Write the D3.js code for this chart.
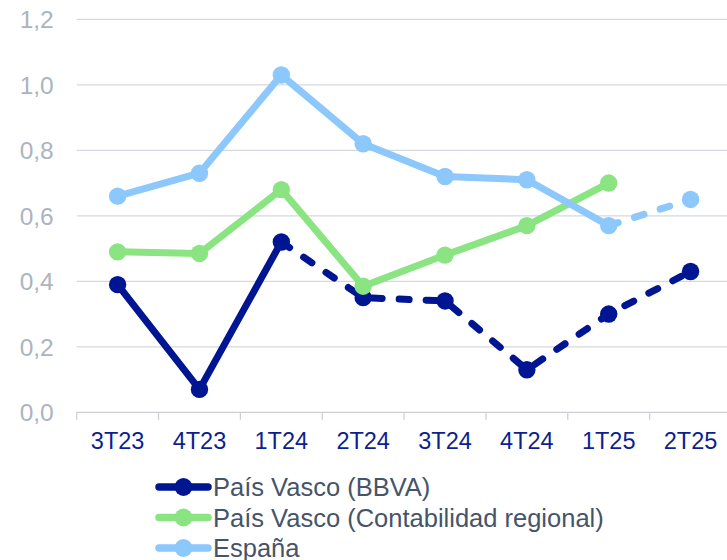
<!DOCTYPE html>
<html>
<head>
<meta charset="utf-8">
<script src="https://cdn.jsdelivr.net/npm/d3@7"></script>
<style>
  html, body { margin: 0; padding: 0; background: #ffffff; }
  svg { display: block; font-family: "Liberation Sans", Arial, sans-serif; }
</style>
</head>
<body>
<svg id="chart" width="727" height="560"></svg>
<script>
// Quarters on the x axis
const quarters = ["3T23", "4T23", "1T24", "2T24", "3T24", "4T24", "1T25", "2T25"];
// Y-axis tick values
const yTicks = [0, 0.2, 0.4, 0.6, 0.8, 1.0, 1.2];

// Series values (null = no data)
const paisVascoBBVA = [0.39, 0.07, 0.52, 0.35, 0.34, 0.13, 0.30, 0.43];
const paisVascoRegional = [0.49, 0.485, 0.68, 0.385, 0.48, 0.57, 0.70, null];
const espana = [0.66, 0.73, 1.03, 0.82, 0.72, 0.71, 0.57, 0.65];

// Index from which each series is drawn dashed (estimates)
const seriesNames = ["País Vasco (BBVA)", "País Vasco (Contabilidad regional)", "España"];
const dashFrom = [2, null, 6];

const series = [
  { name: seriesNames[0], values: paisVascoBBVA, color: "#001591", dashFrom: dashFrom[0] },
  { name: seriesNames[1], values: paisVascoRegional, color: "#8ae481", dashFrom: dashFrom[1] },
  { name: seriesNames[2], values: espana, color: "#8cc8fc", dashFrom: dashFrom[2] }
];

const svg = d3.select("#chart");
const plot = { left: 76.7, right: 727 + 4.5, top: 19.3, bottom: 412.3 };

const x = d3.scaleBand().domain(quarters).range([plot.left, plot.right]).padding(0);
const y = d3.scaleLinear().domain([0, 1.2]).range([plot.bottom, plot.top]);
const cx = q => x(q) + x.bandwidth() / 2;

// Gridlines
svg.append("g")
  .selectAll("line")
  .data(yTicks.filter(d => d > 0))
  .join("line")
  .attr("x1", plot.left).attr("x2", 727)
  .attr("y1", d => y(d)).attr("y2", d => y(d))
  .attr("stroke", "#d5d9df").attr("stroke-width", 1.3);

// Y-axis labels
const yAxis = d3.axisLeft(y).tickValues(yTicks).tickSize(0).tickPadding(23)
  .tickFormat(d => d3.format(".1f")(d).replace(".", ","));
const gy = svg.append("g").attr("transform", `translate(${plot.left},0)`).call(yAxis);
gy.select(".domain").remove();
gy.selectAll("text")
  .attr("fill", "#abb4c0")
  .style("font-size", "24.5px")
  .attr("dy", "0.35em");

// X axis baseline with tick marks between categories
const gx = svg.append("g").attr("transform", `translate(0,${plot.bottom})`);
gx.append("line")
  .attr("x1", plot.left).attr("x2", 727)
  .attr("y1", 0).attr("y2", 0)
  .attr("stroke", "#ccd0d6").attr("stroke-width", 1.3);
gx.selectAll("line.tick")
  .data(quarters)
  .join("line")
  .attr("class", "tick")
  .attr("x1", d => x(d)).attr("x2", d => x(d))
  .attr("y1", 0).attr("y2", 7.5)
  .attr("stroke", "#ccd0d6").attr("stroke-width", 1.3);
gx.selectAll("text")
  .data(quarters)
  .join("text")
  .attr("x", d => cx(d))
  .attr("y", 36.5)
  .attr("text-anchor", "middle")
  .attr("fill", "#0c1f8f")
  .style("font-size", "23.5px")
  .text(d => d);

// Lines and markers
const line = d3.line()
  .defined(d => d.v != null)
  .x(d => cx(d.q))
  .y(d => y(d.v));

series.forEach(s => {
  const pts = quarters.map((q, i) => ({ q, v: s.values[i], i }));
  const solidPts = s.dashFrom == null ? pts : pts.filter(p => p.i <= s.dashFrom);
  const g = svg.append("g");
  g.append("path")
    .attr("d", line(solidPts))
    .attr("fill", "none")
    .attr("stroke", s.color)
    .attr("stroke-width", 7)
    .attr("stroke-linejoin", "round")
    .attr("stroke-linecap", "round");
  if (s.dashFrom != null) {
    const dashPts = pts.filter(p => p.i >= s.dashFrom);
    g.append("path")
      .attr("d", line(dashPts))
      .attr("fill", "none")
      .attr("stroke", s.color)
      .attr("stroke-width", 7)
      .attr("stroke-dasharray", "10,17")
      .attr("stroke-linecap", "round");
  }
  g.selectAll("circle")
    .data(pts.filter(p => p.v != null))
    .join("circle")
    .attr("cx", d => cx(d.q))
    .attr("cy", d => y(d.v))
    .attr("r", 8.7)
    .attr("fill", s.color);
});

// Legend
const legend = svg.append("g");
series.forEach((s, i) => {
  const yy = 487 + i * 30.5;
  legend.append("line")
    .attr("x1", 159).attr("x2", 208)
    .attr("y1", yy).attr("y2", yy)
    .attr("stroke", s.color).attr("stroke-width", 7.5)
    .attr("stroke-linecap", "round");
  legend.append("circle")
    .attr("cx", 183.5).attr("cy", yy).attr("r", 9)
    .attr("fill", s.color);
  legend.append("text")
    .attr("x", 213).attr("y", yy)
    .attr("dy", "0.36em")
    .attr("fill", "#465469")
    .style("font-size", "25.5px")
    .text(s.name);
});
</script>
</body>
</html>
